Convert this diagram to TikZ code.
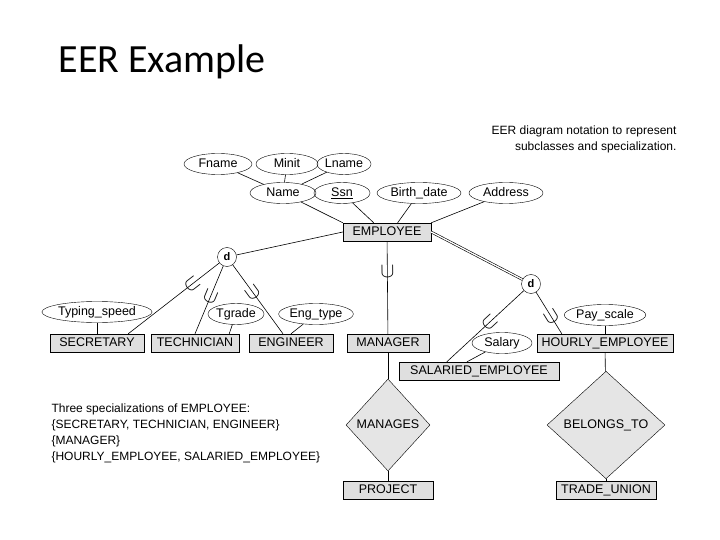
\documentclass[tikz,border=0pt]{standalone}
\usepackage{fontspec}
\setmainfont{Liberation Sans}
\newfontfamily\titlefont{Carlito}
\usetikzlibrary{shapes.geometric,calc}
\begin{document}
\begin{tikzpicture}[x=1pt,y=-1pt,
 every node/.style={font=\fontsize{12.5}{14}\selectfont},
 tx/.style={text height=9pt,text depth=2.5pt},
 ent/.style={draw,fill=gray!25,minimum height=18pt,inner sep=1pt,tx},
 att/.style={draw,ellipse,minimum height=21pt,inner sep=0pt,tx},
 rel/.style={draw,diamond,fill=gray!20,aspect=0.92,inner sep=1pt,tx},
 dn/.style={draw,circle,fill=white,minimum size=19pt,inner sep=0pt,font=\fontsize{11}{12}\selectfont\bfseries},
 ln/.style={line width=0.6pt},
 cupn/.style={sloped,allow upside down,rotate=90,inner sep=0pt,font=\fontsize{22}{22}\selectfont}]
\useasboundingbox (0,0) rectangle (720,540);
\node[anchor=west,font=\titlefont\fontsize{40}{44}\selectfont] (title) at (55,62) {EER Example};
\node[anchor=east,align=right,font=\fontsize{12}{16}\selectfont] (note) at (680,139) {EER diagram notation to represent\\subclasses and specialization.};
% attributes
\node[att,minimum width=68pt] (fname) at (218,164) {Fname};
\node[att,minimum width=62pt] (minit) at (287,164) {Minit};
\node[att,minimum width=54pt] (lname) at (344,164) {Lname};
\node[att,minimum width=66pt] (name) at (283,193) {Name};
\node[att,minimum width=56pt] (ssn) at (342,193) {\underline{Ssn}};
\node[att,minimum width=84pt] (bdate) at (419,193) {Birth\_date};
\node[att,minimum width=74pt] (addr) at (506,193) {Address};
\node[ent,minimum width=88pt] (emp) at (387,232) {EMPLOYEE};
\node[dn] (d1) at (227,257) {d};
\node[dn] (d2) at (531,284) {d};
\node[ent,minimum width=94pt] (sec) at (97,343) {SECRETARY};
\node[ent,minimum width=88pt] (tech) at (195,343) {TECHNICIAN};
\node[ent,minimum width=84pt] (eng) at (291,343) {ENGINEER};
\node[ent,minimum width=82pt] (man) at (388,343) {MANAGER};
\node[ent,minimum width=136pt] (hour) at (605,343) {HOURLY\_EMPLOYEE};
\node[ent,minimum width=160pt] (sal) at (479,371) {SALARIED\_EMPLOYEE};
\node[att,minimum width=94pt] (typ) at (97,312) {Typing\_speed};
\node[att,minimum width=52pt] (tg) at (236,314) {Tgrade};
\node[att,minimum width=74pt] (et) at (316,314) {Eng\_type};
\node[att,minimum width=60pt] (salary) at (502,343) {Salary};
\node[att,minimum width=78pt] (pay) at (605,315) {Pay\_scale};
\node[rel,minimum width=84pt,minimum height=92pt] (mng) at (388,425) {MANAGES};
\node[rel,minimum width=118pt,minimum height=92pt] (bel) at (606,425) {BELONGS\_TO};
\node[ent,minimum width=90pt] (proj) at (388,490) {PROJECT};
\node[ent,minimum width=100pt] (tu) at (606,490) {TRADE\_UNION};
\node[anchor=west,align=left,font=\fontsize{12}{16}\selectfont] (three) at (48,433) {Three specializations of EMPLOYEE:\\\{SECRETARY, TECHNICIAN, ENGINEER\}\\\{MANAGER\}\\\{HOURLY\_EMPLOYEE, SALARIED\_EMPLOYEE\}};
% attribute links
\draw[ln] (fname) -- (name);
\draw[ln] (minit) -- (name);
\draw[ln] (lname) -- (name);
\draw[ln] (name) -- (emp.north west);
\draw[ln] (ssn) -- ($(emp.north west)!0.35!(emp.north east)$);
\draw[ln] (bdate) -- ($(emp.north west)!0.62!(emp.north east)$);
\draw[ln] (addr) -- (emp.north east);
\draw[ln] (typ) -- (sec);
\draw[ln] (tg) -- ($(tech.north east)+(-10,0)$);
\draw[ln] (et) -- ($(eng.north)+(0,0)$);
\draw[ln] (salary) -- ($(sal.north)+(-12,0)$);
\draw[ln] (pay) -- (hour);
% specializations
\draw[ln] (emp.west) -- (d1);
\draw[ln] (d1) -- node[cupn,pos=0.3]{$\cup$} ($(sec.north east)+(-16,0)$);
\draw[ln] (d1) -- node[cupn,pos=0.45]{$\cup$} ($(tech.north)+(0,0)$);
\draw[ln] (d1) -- node[cupn,pos=0.4]{$\cup$} ($(eng.north)+(-8,0)$);
\draw[ln] (emp) -- node[cupn,pos=0.33]{$\cup$} (man);
\draw[ln,double,double distance=1.3pt] (emp.east) -- (d2);
\draw[ln] (d2) -- node[cupn,pos=0.45]{$\cup$} ($(sal.north west)+(48,0)$);
\draw[ln] (d2) -- node[cupn,pos=0.6]{$\cup$} ($(hour.north west)+(25,0)$);
% relationships
\draw[ln] (man) -- (mng);
\draw[ln] (mng) -- (proj);
\draw[ln] (hour) -- (bel);
\draw[ln] (bel) -- (tu);
\end{tikzpicture}
\end{document}
